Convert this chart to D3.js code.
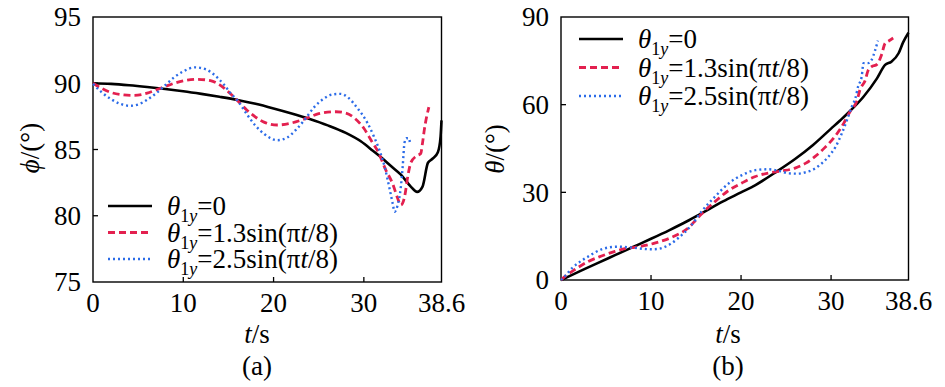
<!DOCTYPE html>
<html>
<head>
<meta charset="utf-8">
<script src="https://cdn.jsdelivr.net/npm/d3@7"></script>
<style>
  body { margin: 0; background: #fff; }
</style>
</head>
<body>
<svg id="chart" width="945" height="387"></svg>
<script>
// shared time ticks
const timeTicks = [0, 10, 20, 30, 38.6];
const timeTickLabels = ["0", "10", "20", "30", "38.6"];

// (a) phi, degrees
const phiTicks = [75, 80, 85, 90, 95];
const phiCase0 = [[0,90.0],[2,89.95],[4,89.85],[6,89.72],[8,89.57],[10,89.4],[12,89.2],[14,88.98],[16,88.74],[18,88.45],[20,88.1],[22,87.72],[24,87.3],[26,86.82],[28,86.25],[29.7,85.6],[31,84.9],[32,84.35],[33,83.75],[34.1,83.1],[35.2,82.2],[35.9,81.8],[36.5,82.2],[37.1,84.0],[37.6,84.3],[38.2,84.8],[38.5,86.0],[38.6,87.2]];
const phiCase1 = [[0,90.0],[1,89.6],[2,89.3],[3,89.15],[4.5,89.08],[6,89.25],[7,89.5],[8,89.75],[9,90.0],[10,90.18],[11.5,90.3],[13,90.2],[14,89.9],[15,89.35],[16,88.7],[17,88.0],[18,87.45],[19,87.05],[20.4,86.85],[22,87.0],[23,87.2],[24,87.45],[25,87.7],[26.9,87.85],[28,87.75],[29,87.35],[30,86.6],[30.8,85.7],[31.6,84.8],[32.4,83.5],[33.2,82.4],[33.7,81.4],[34.1,80.8],[34.5,81.4],[34.9,83.1],[35.2,84.0],[35.8,84.5],[36.3,84.7],[36.5,85.5],[36.7,86.5],[37.2,88.2]];
const phiCase2 = [[0,89.95],[1,89.3],[2,88.8],[3,88.45],[4.1,88.3],[5,88.4],[6,88.75],[7,89.25],[8,89.85],[9,90.45],[10,90.9],[11.3,91.2],[12.5,91.05],[13.5,90.6],[14.5,89.9],[15.3,89.2],[16,88.7],[17,87.7],[18,86.8],[19,86.15],[20.4,85.7],[21.5,85.9],[22.5,86.5],[23.5,87.3],[24.5,88.2],[25.5,88.8],[26.5,89.15],[27.4,89.2],[28.3,88.9],[29.2,88.2],[30.4,87.0],[31.1,86.0],[31.7,85.0],[32.3,83.7],[32.8,82.2],[33.2,80.9],[33.4,80.3],[33.7,80.7],[34.1,82.2],[34.3,83.7],[34.5,85.5],[34.7,85.85],[35.0,85.85],[35.1,85.5]];

// (b) theta, degrees
const thetaTicks = [0, 30, 60, 90];
const thetaCase0 = [[0,0],[2,2.85],[4,5.7],[6,8.5],[8,11.3],[10,14.1],[12,17.0],[14,20.1],[15.6,22.8],[18,26.9],[20,30.0],[21.6,32.5],[24,37.2],[26,41.4],[28,46.2],[30,51.8],[31,54.6],[32,57.5],[33.6,62.7],[35.1,69.0],[36,73.6],[36.7,74.7],[37.5,77.6],[38,81.3],[38.6,84.6]];
const thetaCase1 = [[0,0],[0.7,1.8],[1.55,3.6],[3,6.3],[4.5,8.2],[6,9.8],[7.2,10.8],[8.2,11.2],[9.5,11.9],[10.4,12.6],[12.3,14.6],[13.2,15.9],[14.1,17.7],[15,20.6],[15.6,22.6],[17.1,26.8],[18.6,30.6],[20.1,33.2],[21.6,35.4],[23,36.6],[24.5,37.3],[26,38.3],[27.2,40.0],[28.2,42.2],[29.3,45.3],[30.4,49.0],[31.4,53.6],[32.1,57.6],[32.9,61.6],[33.2,65.0],[33.8,68.4],[34.1,71.6],[34.5,73.0],[35.1,73.8],[35.6,77.0],[36,81.0],[36.4,81.8],[36.9,82.8]];
const thetaCase2 = [[0,0],[0.5,1.5],[1.2,4.0],[2,6.0],[3,8.0],[4.5,10.5],[6.2,11.4],[7.9,11.1],[9,10.7],[10.1,10.5],[10.9,10.7],[11.6,11.4],[12.3,12.6],[13,14.3],[14.5,18.8],[15.6,23.4],[17.1,28.5],[18.6,33.0],[20.1,35.9],[21.6,37.6],[23,37.9],[24.3,37.3],[25.3,36.5],[26.3,36.4],[27.2,36.9],[27.9,37.6],[28.8,39.5],[29.7,42.2],[30.5,45.6],[31.2,50.2],[31.8,55],[32.3,59.3],[32.7,62.2],[33,66.2],[33.4,69.6],[33.6,74.2],[34.1,74.2],[34.5,75.3],[34.9,78.7],[35.2,81.9]];

// legend amplitudes
const caseAmps = ["0", "1.3", "2.5"];

const styles = [
  { color: "#000000", width: 2.6, dash: null },
  { color: "#e3204f", width: 2.8, dash: "7,4" },
  { color: "#2b6be8", width: 2.4, dash: "2,3" }
];

const FONT = "Liberation Serif";
const svg = d3.select("#chart");

// every <text> gets the serif family set directly
function addText(parent) {
  return parent.append("text").attr("font-family", FONT).attr("font-size", 27);
}

// draws the theta_1y legend label into a <text>
function caseLabel(text, amp) {
  text.append("tspan").attr("font-style", "italic").text("θ");
  text.append("tspan").attr("font-size", 18).attr("dy", 7).text("1");
  text.append("tspan").attr("font-size", 18).attr("font-style", "italic").text("y");
  if (amp === "0") {
    text.append("tspan").attr("dy", -7).text("=0");
  } else {
    text.append("tspan").attr("dy", -7).text("=" + amp + "sin(π");
    text.append("tspan").attr("font-style", "italic").text("t");
    text.append("tspan").text("/8)");
  }
}

function drawPanel(p) {
  const g = svg.append("g");
  const x = d3.scaleLinear().domain([0, 38.6]).range([p.left, p.right]);
  const y = d3.scaleLinear().domain(p.yDomain).range([p.bottom, p.top]);

  // frame
  g.append("rect")
    .attr("x", p.left).attr("y", p.top)
    .attr("width", p.right - p.left).attr("height", p.bottom - p.top)
    .attr("fill", "none").attr("stroke", "#000").attr("stroke-width", 1.4);

  // inward ticks
  g.selectAll(".xt").data(timeTicks.slice(1, -1)).join("line")
    .attr("x1", d => x(d)).attr("x2", d => x(d))
    .attr("y1", p.bottom).attr("y2", p.bottom - 5)
    .attr("stroke", "#000").attr("stroke-width", 1.3);
  g.selectAll(".yt").data(p.yTicks.slice(1, -1)).join("line")
    .attr("x1", p.left).attr("x2", p.left + 5)
    .attr("y1", d => y(d)).attr("y2", d => y(d))
    .attr("stroke", "#000").attr("stroke-width", 1.3);

  // tick labels
  timeTicks.forEach((d, i) => {
    addText(g).attr("x", x(d)).attr("y", p.bottom + 30)
      .attr("text-anchor", "middle").text(timeTickLabels[i]);
  });
  p.yTicks.forEach(d => {
    addText(g).attr("x", p.left - 12).attr("y", y(d))
      .attr("dy", "0.35em").attr("text-anchor", "end").text(d);
  });

  // axis titles
  const xt = addText(g).attr("x", p.xTitleX).attr("y", 343).attr("text-anchor", "middle");
  xt.append("tspan").attr("font-style", "italic").text("t");
  xt.append("tspan").text("/s");
  addText(g).attr("x", p.xTitleX).attr("y", 375).attr("text-anchor", "middle").text(p.tag);

  const yt = addText(g)
    .attr("transform", `translate(${p.yTitleX},${p.yTitleY}) rotate(-90)`)
    .attr("dy", "0.35em").attr("text-anchor", "middle");
  yt.append("tspan").attr("font-style", "italic").text(p.symbol);
  yt.append("tspan").text("/(°)");

  // curves
  const line = d3.line()
    .x(d => x(d[0])).y(d => y(d[1]))
    .curve(d3.curveMonotoneX);
  p.series.forEach((s, i) => {
    g.append("path").datum(s)
      .attr("d", line)
      .attr("fill", "none")
      .attr("stroke", styles[i].color)
      .attr("stroke-width", styles[i].width)
      .attr("stroke-dasharray", styles[i].dash);
  });

  // legend
  caseAmps.forEach((amp, i) => {
    const ly = p.legendY + i * p.legendGap;
    g.append("line")
      .attr("x1", p.legendX).attr("x2", p.legendX + 44)
      .attr("y1", ly - 9).attr("y2", ly - 9)
      .attr("stroke", styles[i].color)
      .attr("stroke-width", styles[i].width)
      .attr("stroke-dasharray", styles[i].dash);
    const t = addText(g).attr("x", p.legendX + 59).attr("y", ly);
    caseLabel(t, amp);
  });
}

drawPanel({
  left: 93, right: 441.5, top: 17, bottom: 282,
  yDomain: [75, 95], yTicks: phiTicks,
  series: [phiCase0, phiCase1, phiCase2],
  symbol: "ϕ", tag: "(a)",
  xTitleX: 257, yTitleX: 30, yTitleY: 148,
  legendX: 108, legendY: 215, legendGap: 26.5
});

drawPanel({
  left: 561, right: 908.5, top: 17, bottom: 280,
  yDomain: [0, 90], yTicks: thetaTicks,
  series: [thetaCase0, thetaCase1, thetaCase2],
  symbol: "θ", tag: "(b)",
  xTitleX: 728, yTitleX: 495, yTitleY: 149,
  legendX: 579, legendY: 48, legendGap: 28.5
});
</script>
</body>
</html>
